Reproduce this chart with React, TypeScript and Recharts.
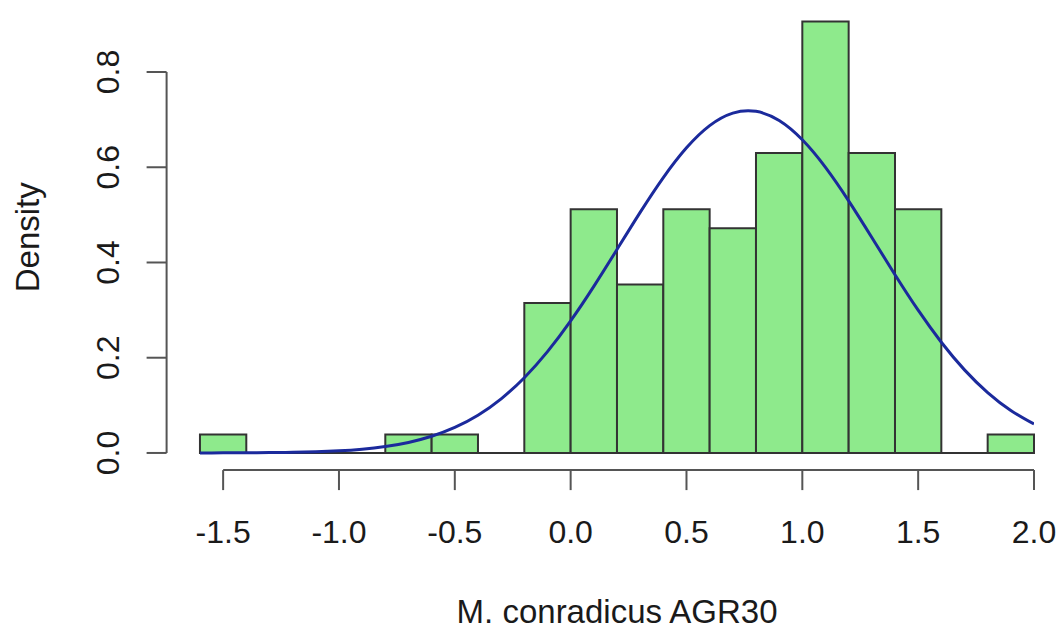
import React from 'react';
import { ComposedChart, XAxis, YAxis, Line, ReferenceArea, ReferenceLine, Label } from 'recharts';

// Histogram bins (edges) and densities
const binEdges = [-1.6, -1.4, -1.2, -1.0, -0.8, -0.6, -0.4, -0.2, 0.0, 0.2, 0.4, 0.6, 0.8, 1.0, 1.2, 1.4, 1.6, 1.8, 2.0];
const binDensity = [0.039, 0, 0, 0, 0.039, 0.039, 0, 0.315, 0.512, 0.354, 0.512, 0.472, 0.630, 0.906, 0.630, 0.512, 0, 0.039];

// Density curve
const curveX = [-1.6, -1.5, -1.4, -1.3, -1.2, -1.1, -1.0, -0.9, -0.8, -0.7, -0.6, -0.5, -0.4, -0.3, -0.2, -0.1, 0.0, 0.1, 0.2, 0.3, 0.4, 0.5, 0.6, 0.7, 0.8, 0.9, 1.0, 1.1, 1.2, 1.3, 1.4, 1.5, 1.6, 1.7, 1.8, 1.9, 2.0];
const curveY = [0.0001, 0.0002, 0.0004, 0.0007, 0.0014, 0.0025, 0.0045, 0.0079, 0.0134, 0.0220, 0.0350, 0.0535, 0.0791, 0.1136, 0.158, 0.2128, 0.2774, 0.3499, 0.4273, 0.5052, 0.5783, 0.6408, 0.6874, 0.7137, 0.7174, 0.6982, 0.6577, 0.5998, 0.5295, 0.4525, 0.3744, 0.2998, 0.2325, 0.1745, 0.1268, 0.0892, 0.0607];

const xTicks = [-1.5, -1.0, -0.5, 0.0, 0.5, 1.0, 1.5, 2.0];
const yTicks = [0.0, 0.2, 0.4, 0.6, 0.8];
const xTitle = 'M. conradicus AGR30';
const yTitle = 'Density';

const curveData = curveX.map((x, i) => ({ x, y: curveY[i] }));

const FONT = '"Liberation Sans", Arial, Helvetica, sans-serif';
const AXIS_COLOR = '#555';
const TEXT_COLOR = '#1a1a1a';
const X_MIN = -1.744;
const X_MAX = 2.0;
const Y_MIN = -0.036;
const Y_MAX = 0.942;

const YTick = (props: any) => {
  const { x, y, payload } = props;
  return (
    <text
      transform={`translate(${x - 25.6},${y}) rotate(-90)`}
      textAnchor="middle"
      fontSize={32}
      fontFamily={FONT}
      fill={TEXT_COLOR}
    >
      {Number(payload.value).toFixed(1)}
    </text>
  );
};

export default function App() {
  return (
    <div style={{ position: 'absolute', left: 0, top: 0, background: '#fff' }}>
      <ComposedChart
        width={1062}
        height={630}
        data={curveData}
        margin={{ top: 4.4, right: 28, bottom: 99.9, left: 106.6 }}
      >
        <XAxis
          dataKey="x"
          type="number"
          domain={[X_MIN, X_MAX]}
          allowDataOverflow
          ticks={xTicks}
          tickFormatter={(v: number) => v.toFixed(1)}
          interval={0}
          height={60}
          axisLine={false}
          tickSize={20}
          tickMargin={30}
          tickLine={{ stroke: AXIS_COLOR, strokeWidth: 2 }}
          tick={{ fontSize: 32, fontFamily: FONT, fill: TEXT_COLOR }}
        >
          <Label
            content={(p: any) => {
              const vb = p.viewBox || { x: 166.6, y: 470.1, width: 867.4 };
              return (
                <text
                  x={vb.x + vb.width / 2 + 16.8}
                  y={vb.y + 152.5}
                  textAnchor="middle"
                  fontSize={33}
                  fontFamily={FONT}
                  fill={TEXT_COLOR}
                >
                  {xTitle}
                </text>
              );
            }}
          />
        </XAxis>
        <YAxis
          type="number"
          domain={[Y_MIN, Y_MAX]}
          allowDataOverflow
          ticks={yTicks}
          interval={0}
          width={60}
          axisLine={false}
          tickSize={20}
          tickMargin={2}
          tickLine={{ stroke: AXIS_COLOR, strokeWidth: 2 }}
          tick={<YTick />}
        >
          <Label
            content={(p: any) => {
              const vb = p.viewBox || { x: 106.6, y: 4.4, width: 60, height: 465.7 };
              const cy = vb.y + vb.height / 2;
              return (
                <text
                  transform={`translate(38.5,${cy}) rotate(-90)`}
                  textAnchor="middle"
                  fontSize={33}
                  fontFamily={FONT}
                  fill={TEXT_COLOR}
                >
                  {yTitle}
                </text>
              );
            }}
          />
        </YAxis>

        {/* axis lines spanning only the tick range, as in base R */}
        <ReferenceLine
          segment={[{ x: xTicks[0], y: Y_MIN }, { x: xTicks[xTicks.length - 1], y: Y_MIN }]}
          stroke={AXIS_COLOR}
          strokeWidth={2}
          ifOverflow="visible"
        />
        <ReferenceLine
          segment={[{ x: X_MIN, y: yTicks[0] }, { x: X_MIN, y: yTicks[yTicks.length - 1] }]}
          stroke={AXIS_COLOR}
          strokeWidth={2}
          ifOverflow="visible"
        />

        {/* zero-height bins baseline */}
        <ReferenceLine
          segment={[{ x: binEdges[0], y: 0 }, { x: binEdges[binEdges.length - 1], y: 0 }]}
          stroke="#333"
          strokeWidth={2}
          ifOverflow="visible"
        />

        {binDensity.map((d, i) =>
          d > 0 ? (
            <ReferenceArea
              key={i}
              x1={binEdges[i]}
              x2={binEdges[i + 1]}
              y1={0}
              y2={d}
              fill="#8eea8c"
              fillOpacity={1}
              stroke="#333"
              strokeWidth={2}
              ifOverflow="visible"
            />
          ) : null
        )}

        <Line
          dataKey="y"
          type="natural"
          stroke="#1b2a9c"
          strokeWidth={3}
          dot={false}
          activeDot={false}
          isAnimationActive={false}
        />
      </ComposedChart>
    </div>
  );
}
